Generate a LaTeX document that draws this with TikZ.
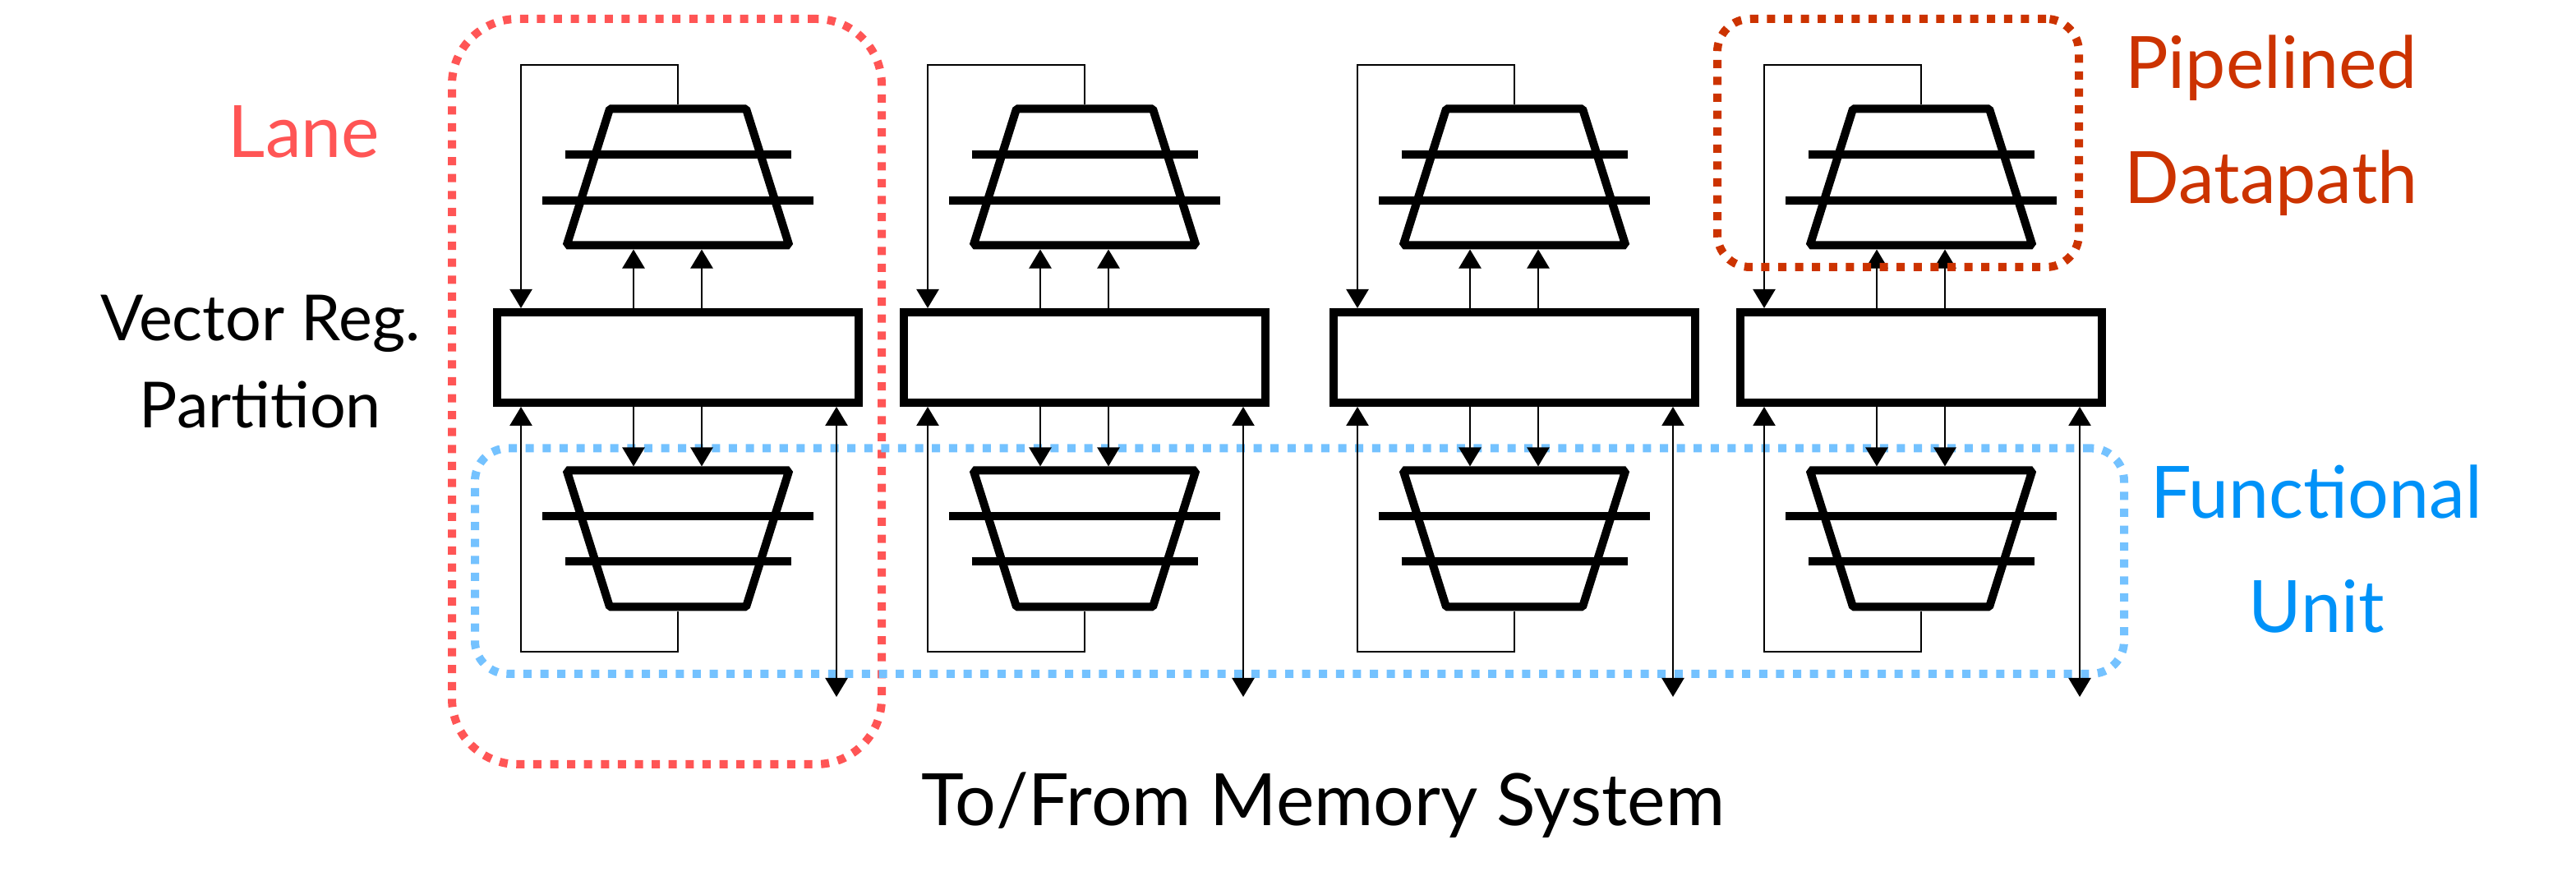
\documentclass[tikz,border=0pt]{standalone}
\usepackage{fontspec}
\setmainfont{Lato}
\usetikzlibrary{arrows.meta, shapes.geometric}
\definecolor{lanered}{HTML}{FF5555}
\definecolor{unitblue}{HTML}{74C2FF}
\definecolor{unittext}{HTML}{0092F8}
\definecolor{pathred}{HTML}{CC3300}

\begin{document}
\begin{tikzpicture}[
    regfile/.style={
        draw, rectangle, minimum width=4.4cm, minimum height=1.1cm,
        inner sep=0pt, line width=0.1cm
    },
    alu/.style={
        draw, trapezium, trapezium angle=72.5,
        minimum width=2.72cm, minimum height=1.65cm,
        inner sep=2pt, line width=0.1cm, line join=bevel
    },
    ulu/.style={alu, shape border rotate=180},
    stage/.style={line width=0.1cm},
    dotbox/.style={
        draw=#1, rectangle, inner sep=0pt, line width=0.1cm,
        dash pattern=on 0.1cm off 0.106cm
    },
    arr/.style={
        -{Triangle[length=0.23cm, width=0.27cm]}, line width=0.025cm
    },
    biarr/.style={
        {Triangle[length=0.23cm, width=0.27cm]}-{Triangle[length=0.23cm, width=0.27cm]},
        line width=0.025cm
    },
    big/.style={font=\fontsize{25}{39.8}\selectfont, align=center},
    small/.style={font=\fontsize{22}{30.2}\selectfont, align=center}
]
\useasboundingbox (0, 0) rectangle (31.35, 10.72);

% Dotted groups behind the lanes
\node[dotbox=lanered, rounded corners=0.8cm, minimum width=5.23cm, minimum height=9.07cm] (laneBox) at (8.115, 5.955) {};
\node[dotbox=unitblue, rounded corners=0.4cm, minimum width=20.07cm, minimum height=2.745cm] (unitBox) at (15.815, 3.893) {};

% Lane 1
\node[regfile] (regA) at (8.25, 6.37) {};
\node[alu] (pipeA) at (8.25, 8.565) {};
\node[ulu] (unitA) at (8.25, 4.165) {};
\draw[stage] ([shift={(-1.375,0.275)}]pipeA.center) -- ([shift={(1.375,0.275)}]pipeA.center);
\draw[stage] ([shift={(-1.65,-0.285)}]pipeA.center) -- ([shift={(1.65,-0.285)}]pipeA.center);
\draw[stage] ([shift={(-1.65,0.275)}]unitA.center) -- ([shift={(1.65,0.275)}]unitA.center);
\draw[stage] ([shift={(-1.375,-0.275)}]unitA.center) -- ([shift={(1.375,-0.275)}]unitA.center);
\coordinate (topA) at (6.34, 9.93);
\coordinate (botA) at (6.34, 2.79);
\coordinate (memA) at (10.18, 2.24);
\draw[arr] (pipeA.north) |- (topA) -- (topA |- regA.north);
\draw[arr] (unitA.south) |- (botA) -- (botA |- regA.south);
\draw[arr] ([xshift=-0.54cm]regA.north) -- ([xshift=-0.54cm]pipeA.south);
\draw[arr] ([xshift=0.29cm]regA.north) -- ([xshift=0.29cm]pipeA.south);
\draw[arr] ([xshift=-0.54cm]regA.south) -- ([xshift=-0.54cm]unitA.north);
\draw[arr] ([xshift=0.29cm]regA.south) -- ([xshift=0.29cm]unitA.north);
\draw[biarr] (memA |- regA.south) -- (memA);

% Lane 2
\node[regfile] (regB) at (13.2, 6.37) {};
\node[alu] (pipeB) at (13.2, 8.565) {};
\node[ulu] (unitB) at (13.2, 4.165) {};
\draw[stage] ([shift={(-1.375,0.275)}]pipeB.center) -- ([shift={(1.375,0.275)}]pipeB.center);
\draw[stage] ([shift={(-1.65,-0.285)}]pipeB.center) -- ([shift={(1.65,-0.285)}]pipeB.center);
\draw[stage] ([shift={(-1.65,0.275)}]unitB.center) -- ([shift={(1.65,0.275)}]unitB.center);
\draw[stage] ([shift={(-1.375,-0.275)}]unitB.center) -- ([shift={(1.375,-0.275)}]unitB.center);
\coordinate (topB) at (11.29, 9.93);
\coordinate (botB) at (11.29, 2.79);
\coordinate (memB) at (15.13, 2.24);
\draw[arr] (pipeB.north) |- (topB) -- (topB |- regB.north);
\draw[arr] (unitB.south) |- (botB) -- (botB |- regB.south);
\draw[arr] ([xshift=-0.54cm]regB.north) -- ([xshift=-0.54cm]pipeB.south);
\draw[arr] ([xshift=0.29cm]regB.north) -- ([xshift=0.29cm]pipeB.south);
\draw[arr] ([xshift=-0.54cm]regB.south) -- ([xshift=-0.54cm]unitB.north);
\draw[arr] ([xshift=0.29cm]regB.south) -- ([xshift=0.29cm]unitB.north);
\draw[biarr] (memB |- regB.south) -- (memB);

% Lane 3
\node[regfile] (regC) at (18.43, 6.37) {};
\node[alu] (pipeC) at (18.43, 8.565) {};
\node[ulu] (unitC) at (18.43, 4.165) {};
\draw[stage] ([shift={(-1.375,0.275)}]pipeC.center) -- ([shift={(1.375,0.275)}]pipeC.center);
\draw[stage] ([shift={(-1.65,-0.285)}]pipeC.center) -- ([shift={(1.65,-0.285)}]pipeC.center);
\draw[stage] ([shift={(-1.65,0.275)}]unitC.center) -- ([shift={(1.65,0.275)}]unitC.center);
\draw[stage] ([shift={(-1.375,-0.275)}]unitC.center) -- ([shift={(1.375,-0.275)}]unitC.center);
\coordinate (topC) at (16.52, 9.93);
\coordinate (botC) at (16.52, 2.79);
\coordinate (memC) at (20.36, 2.24);
\draw[arr] (pipeC.north) |- (topC) -- (topC |- regC.north);
\draw[arr] (unitC.south) |- (botC) -- (botC |- regC.south);
\draw[arr] ([xshift=-0.54cm]regC.north) -- ([xshift=-0.54cm]pipeC.south);
\draw[arr] ([xshift=0.29cm]regC.north) -- ([xshift=0.29cm]pipeC.south);
\draw[arr] ([xshift=-0.54cm]regC.south) -- ([xshift=-0.54cm]unitC.north);
\draw[arr] ([xshift=0.29cm]regC.south) -- ([xshift=0.29cm]unitC.north);
\draw[biarr] (memC |- regC.south) -- (memC);

% Lane 4
\node[regfile] (regD) at (23.38, 6.37) {};
\node[alu] (pipeD) at (23.38, 8.565) {};
\node[ulu] (unitD) at (23.38, 4.165) {};
\draw[stage] ([shift={(-1.375,0.275)}]pipeD.center) -- ([shift={(1.375,0.275)}]pipeD.center);
\draw[stage] ([shift={(-1.65,-0.285)}]pipeD.center) -- ([shift={(1.65,-0.285)}]pipeD.center);
\draw[stage] ([shift={(-1.65,0.275)}]unitD.center) -- ([shift={(1.65,0.275)}]unitD.center);
\draw[stage] ([shift={(-1.375,-0.275)}]unitD.center) -- ([shift={(1.375,-0.275)}]unitD.center);
\coordinate (topD) at (21.47, 9.93);
\coordinate (botD) at (21.47, 2.79);
\coordinate (memD) at (25.31, 2.24);
\draw[arr] (pipeD.north) |- (topD) -- (topD |- regD.north);
\draw[arr] (unitD.south) |- (botD) -- (botD |- regD.south);
\draw[arr] ([xshift=-0.54cm]regD.north) -- ([xshift=-0.54cm]pipeD.south);
\draw[arr] ([xshift=0.29cm]regD.north) -- ([xshift=0.29cm]pipeD.south);
\draw[arr] ([xshift=-0.54cm]regD.south) -- ([xshift=-0.54cm]unitD.north);
\draw[arr] ([xshift=0.29cm]regD.south) -- ([xshift=0.29cm]unitD.north);
\draw[biarr] (memD |- regD.south) -- (memD);

% Dark group goes over the arrows
\node[dotbox=pathred, rounded corners=0.4cm, minimum width=4.4cm, minimum height=3.02cm] (pathBox) at (23.1, 8.98) {};

% Labels
\node[big, text=lanered] (laneLabel) at (3.7, 9.12) {Lane};
\node[small] (regLabel) at (3.17, 6.32) {Vector Reg.\\Partition};
\node[big, text=pathred] (pathLabel) at (27.64, 9.19) {Pipelined\\Datapath};
\node[big, text=unittext] (unitLabel) at (28.19, 4.04) {Functional\\Unit};
\node[big] (memLabel) at (16.1, 0.92) {To/From Memory System};

\end{tikzpicture}
\end{document}
